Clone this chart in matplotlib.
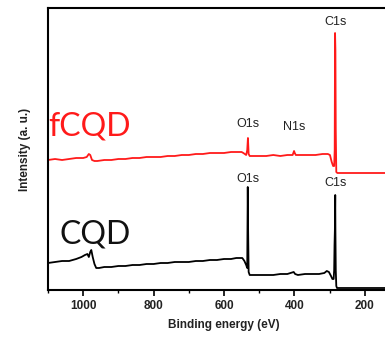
import matplotlib
matplotlib.use("Agg")
import matplotlib.pyplot as plt
from matplotlib.ticker import MultipleLocator

# Binding energy (eV) and intensity (a.u.)
fcqd_energy = [1100, 1080, 1060, 1040, 1020, 1000, 990, 984, 980, 975, 968, 960, 940, 920, 900,
               880, 860, 840, 820, 800, 780, 760, 740, 720, 700, 680, 660, 640, 620, 600,
               580, 560, 550, 545, 537, 534, 532, 530, 527, 515, 500, 480, 460, 440, 420,
               405, 401, 399, 396, 380, 360, 340, 320, 305, 299, 294, 290, 287, 285.5, 284.5,
               283.5, 282.5, 281, 278, 260, 240, 220, 200, 180, 160, 140, 120, 100]
fcqd_intensity = [130, 131, 130, 131, 132, 132, 133, 136, 135, 130, 129, 129, 130, 130, 131,
                  131, 132, 132, 133, 133, 133, 134, 134, 135, 135, 136, 136, 137, 137, 137,
                  138, 138, 138, 137, 135, 140, 152, 136, 134, 134, 134, 134, 135, 134, 135,
                  135, 139, 137, 135, 135, 135, 135, 136, 136, 135, 128, 124, 124, 140, 257,
                  240, 160, 118, 117, 117, 117, 117, 117, 117, 117, 117, 117, 117]

cqd_energy = [1100, 1080, 1060, 1040, 1020, 1005, 995, 988, 984, 980, 977, 973, 968, 963, 955,
              940, 920, 900, 880, 860, 840, 820, 800, 780, 760, 740, 720, 700, 680, 660,
              640, 620, 600, 580, 565, 555, 548, 542, 537, 534, 532.5, 531.5, 530, 527, 520,
              500, 480, 460, 440, 420, 402, 398, 390, 370, 350, 330, 315, 308, 302, 296,
              292, 288.5, 287, 286, 285, 284, 283.5, 282.5, 281, 279, 260, 240, 220, 200,
              180, 160, 140, 120, 100]
cqd_intensity = [27, 28, 29, 29, 31, 33, 35, 36, 33, 38, 40, 33, 26, 22, 22,
                 23, 23, 24, 24, 25, 25, 26, 26, 27, 27, 28, 28, 28, 29, 29,
                 30, 30, 31, 31, 32, 32, 32, 29, 25, 22, 103, 60, 18, 15, 15,
                 15, 15, 15, 16, 16, 18, 16, 15, 16, 16, 16, 17, 19, 18, 14,
                 11, 11, 20, 45, 60, 95, 60, 20, 4, 2, 2, 2, 2, 2,
                 2, 2, 2, 2, 2]

xticks = [1000, 800, 600, 400, 200]

peak_labels = [
    ("C1s", 284, 262),
    ("O1s", 532, 160),
    ("N1s", 400, 157),
    ("O1s", 532, 105),
    ("C1s", 284, 101),
]

fig = plt.figure(figsize=(3.85, 3.37), dpi=100)
ax = fig.add_axes([48/385, 47/337, 352/385, 282/337])

ax.plot(fcqd_energy, fcqd_intensity, color="#ff1a1a", lw=1.3)
ax.plot(cqd_energy, cqd_intensity, color="#000000", lw=1.3)

ax.set_xlim(1100, 100)
ax.set_ylim(0, 282)
ax.set_xticks(xticks)
ax.xaxis.set_minor_locator(MultipleLocator(100))
ax.set_yticks([])
ax.tick_params(axis="x", which="major", direction="out", length=4, width=1.2, pad=3)
ax.tick_params(axis="x", which="minor", direction="out", length=2.5, width=1.0)
for lab in ax.get_xticklabels():
    lab.set_fontfamily("Liberation Sans")
    lab.set_fontweight("bold")
    lab.set_fontsize(8.5)
    lab.set_color("#222222")
for sp in ax.spines.values():
    sp.set_linewidth(1.5)

ax.set_xlabel("Binding energy (eV)", fontfamily="Liberation Sans", fontweight="bold",
              fontsize=8.5, color="#222222", labelpad=5)
ax.set_ylabel("Intensity (a. u.)", fontfamily="Liberation Sans", fontweight="bold",
              fontsize=8.5, color="#222222", labelpad=12)

for txt, e, y in peak_labels:
    ax.text(e, y, txt, ha="center", va="bottom", fontfamily="Liberation Sans",
            fontsize=9, color="#222222")

ax.text(1099, 148, "fCQD", color="#ff1a1a", fontfamily="Lato", fontweight="normal",
        fontsize=23, ha="left", va="bottom")
ax.text(1068, 40, "CQD", color="#111111", fontfamily="Lato", fontweight="normal",
        fontsize=23, ha="left", va="bottom")

fig.savefig("out.png", dpi=100)
